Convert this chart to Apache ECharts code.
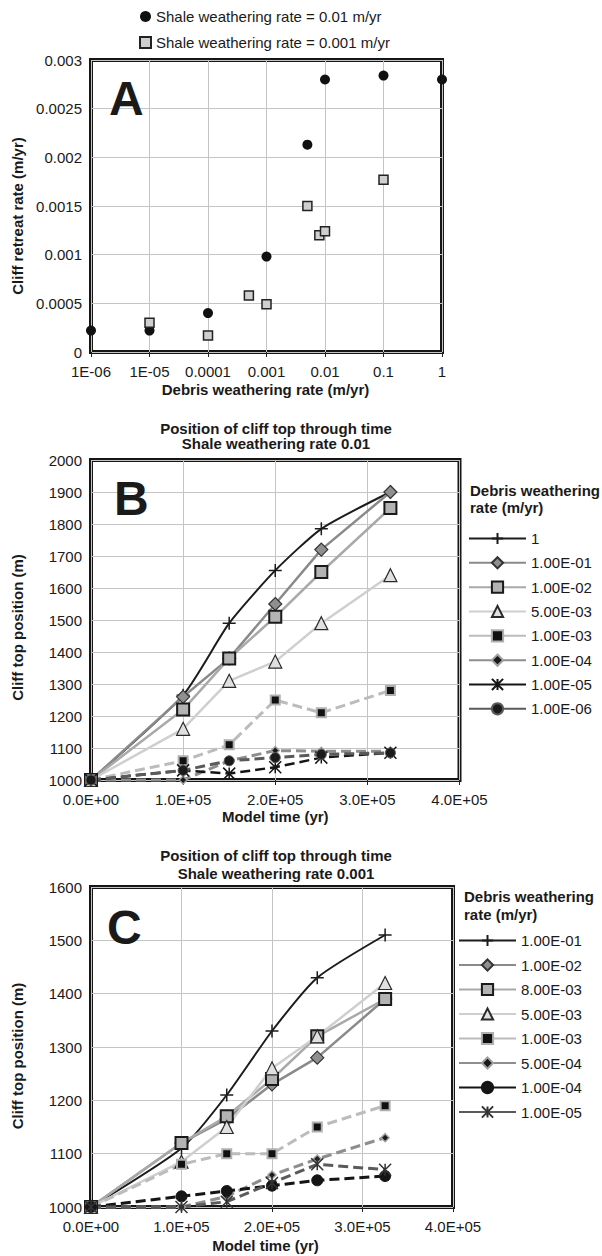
<!DOCTYPE html>
<html><head><meta charset="utf-8">
<script src="https://cdn.jsdelivr.net/npm/echarts@6/dist/echarts.min.js"></script>
<style>html,body{margin:0;padding:0;background:#fff}#c{width:602px;height:1256px}</style>
</head><body><div id="c"></div>
<script>
// ---------- Panel A data ----------
const debrisRatesHigh = [1e-6, 1e-5, 1e-4, 1e-3, 5e-3, 1e-2, 1e-1, 1];
const retreatHigh     = [0.00022, 0.00022, 0.0004, 0.00098, 0.00213, 0.0028, 0.00284, 0.0028];
const debrisRatesLow  = [1e-5, 1e-4, 5e-4, 1e-3, 5e-3, 8e-3, 1e-2, 1e-1];
const retreatLow      = [0.0003, 0.00017, 0.00058, 0.00049, 0.0015, 0.0012, 0.00124, 0.00177];
const seriesNamesA = ['Shale weathering rate = 0.01 m/yr', 'Shale weathering rate = 0.001 m/yr'];
const xTickLabelsA = ['1E-06', '1E-05', '0.0001', '0.001', '0.01', '0.1', '1'];
const yTickLabelsA = ['0', '0.0005', '0.001', '0.0015', '0.002', '0.0025', '0.003'];

// ---------- Panels B & C shared ----------
const modelTimes = [0, 100000, 150000, 200000, 250000, 325000];
const timeTickLabels = ['0.0E+00', '1.0E+05', '2.0E+05', '3.0E+05', '4.0E+05'];

// ---------- Panel B data (shale 0.01) ----------
const namesB = ['1', '1.00E-01', '1.00E-02', '5.00E-03', '1.00E-03', '1.00E-04', '1.00E-05', '1.00E-06'];
const posB_1    = [1000, 1265, 1490, 1655, 1785, 1900];
const posB_1e1  = [1000, 1260, 1380, 1550, 1720, 1900];
const posB_1e2  = [1000, 1220, 1380, 1510, 1650, 1850];
const posB_5e3  = [1000, 1160, 1310, 1370, 1490, 1640];
const posB_1e3  = [1000, 1060, 1110, 1250, 1210, 1280];
const posB_1e4  = [1000, 1000, 1060, 1092, 1090, 1090];
const posB_1e5  = [1000, 1030, 1020, 1040, 1070, 1085];
const posB_1e6  = [1000, 1030, 1060, 1070, 1080, 1085];
const valuesB = [posB_1, posB_1e1, posB_1e2, posB_5e3, posB_1e3, posB_1e4, posB_1e5, posB_1e6];

// ---------- Panel C data (shale 0.001) ----------
const namesC = ['1.00E-01', '1.00E-02', '8.00E-03', '5.00E-03', '1.00E-03', '5.00E-04', '1.00E-04', '1.00E-05'];
const posC_1e1 = [1000, 1110, 1210, 1330, 1430, 1510];
const posC_1e2 = [1000, 1120, 1165, 1230, 1280, 1390];
const posC_8e3 = [1000, 1120, 1170, 1240, 1320, 1390];
const posC_5e3 = [1000, 1085, 1150, 1260, 1320, 1420];
const posC_1e3 = [1000, 1080, 1100, 1100, 1150, 1190];
const posC_5e4 = [1000, 1000, 1020, 1060, 1090, 1130];
const posC_1e4 = [1000, 1020, 1030, 1040, 1050, 1058];
const posC_1e5 = [1000, 1000, 1010, 1045, 1080, 1070];
const valuesC = [posC_1e1, posC_1e2, posC_8e3, posC_5e3, posC_1e3, posC_5e4, posC_1e4, posC_1e5];

// ---------- styles ----------
const FONT = "'Liberation Sans', Arial, Helvetica, sans-serif";
const symPlus = 'path://M5,0L5,10M0,5L10,5';
const symAster = 'path://M0,0L10,10M10,0L0,10M5,0L5,10';
const DASH = [10, 5];
const stBlackPlus = {line:'#1c1c1c', width:2, symbol:symPlus, size:13, fill:'rgba(0,0,0,0)', border:'#1c1c1c', bw:1.5, smooth:0.2};
const stDiamond   = {line:'#8a8a8a', width:2.5, symbol:'diamond', size:13, fill:'#8f8f8f', border:'#333', bw:1.2};
const stSquare    = {line:'#a9a9a9', width:2.5, symbol:'rect', size:12, fill:'#b3b3b3', border:'#1a1a1a', bw:2};
const stTriangle  = {line:'#cfcfcf', width:2.5, symbol:'triangle', size:13, fill:'#e0e0e0', border:'#2a2a2a', bw:1.2};
const stSmallSq   = {line:'#bcbcbc', width:3, dash:true, symbol:'rect', size:9, fill:'#111', border:'#b0b0b0', bw:2};
const stSmallDia  = {line:'#8e8e8e', width:3, dash:true, symbol:'diamond', size:8, fill:'#1a1a1a', border:'#a0a0a0', bw:1.5};
const stAsterBlk  = {line:'#151515', width:2.5, dash:true, symbol:symAster, size:12, fill:'rgba(0,0,0,0)', border:'#151515', bw:1.5};
const stCircleGr  = {line:'#5a5a5a', width:3, dash:true, symbol:'circle', size:10, fill:'#1a1a1a', border:'#5a5a5a', bw:1};
const stCircleBlk = {line:'#151515', width:3, dash:true, symbol:'circle', size:11, fill:'#151515', border:'#151515', bw:1};
const stAsterGr   = {line:'#5a5a5a', width:3, dash:true, symbol:symAster, size:12, fill:'rgba(0,0,0,0)', border:'#333', bw:1.5};
const stylesB = [stBlackPlus, stDiamond, stSquare, stTriangle, stSmallSq, stSmallDia, stAsterBlk, stCircleGr];
const stylesC = [stBlackPlus, stDiamond, stSquare, stTriangle, stSmallSq, stSmallDia, stCircleBlk, stAsterGr];

function lineSeries(prefix, name, values, st, idx) {
  return {
    type: 'line', name: prefix + '|' + name, xAxisIndex: idx, yAxisIndex: idx,
    data: modelTimes.map((t, i) => [t, values[i]]),
    smooth: st.smooth || false, symbol: st.symbol, symbolSize: st.size, symbolKeepAspect: true,
    showAllSymbol: true, clip: false,
    lineStyle: {color: st.line, width: st.width, type: st.dash ? DASH : 'solid', opacity: 1},
    itemStyle: {color: st.fill, borderColor: st.border, borderWidth: st.bw, opacity: 1},
    emphasis: {disabled: true}
  };
}

const axisText = {color: '#1a1a1a', fontSize: 15, fontFamily: FONT};
const nameText = {color: '#1a1a1a', fontSize: 15, fontWeight: 'bold', fontFamily: FONT};
const split = {show: true, lineStyle: {color: '#c4c4c4', width: 1}};
const tick = {show: true, inside: false, length: 5, lineStyle: {color: '#222', width: 1}};
const plainNum = v => String(v);

const grids = [
  {left: 91, top: 60, width: 351, height: 292},
  {left: 91, top: 460, width: 368.5, height: 320},
  {left: 91, top: 887, width: 362, height: 320}
].map(g => Object.assign(g, {show: true, borderColor: '#161616', borderWidth: 4, backgroundColor: '#fff', containLabel: false}));

const xAxes = [
  {gridIndex: 0, type: 'log', logBase: 10, min: 1e-6, max: 1, splitNumber: 6,
   axisLine: {show: false}, axisTick: tick, splitLine: split,
   axisLabel: Object.assign({margin: 12, formatter: v => xTickLabelsA[Math.round(Math.log10(v)) + 6]}, axisText),
   name: 'Debris weathering rate (m/yr)', nameLocation: 'middle', nameGap: 30,
   nameTextStyle: Object.assign({padding: [0, 2, 0, 0]}, nameText)},
  {gridIndex: 1, type: 'value', min: 0, max: 400000, interval: 100000,
   axisLine: {show: false}, axisTick: tick, splitLine: split,
   axisLabel: Object.assign({margin: 12, formatter: v => timeTickLabels[Math.round(v / 100000)]}, axisText),
   name: 'Model time (yr)', nameLocation: 'middle', nameGap: 29, nameTextStyle: nameText},
  {gridIndex: 2, type: 'value', min: 0, max: 400000, interval: 100000,
   axisLine: {show: false}, axisTick: tick, splitLine: split,
   axisLabel: Object.assign({margin: 12, formatter: v => timeTickLabels[Math.round(v / 100000)]}, axisText),
   name: 'Model time (yr)', nameLocation: 'middle', nameGap: 31,
   nameTextStyle: Object.assign({padding: [0, 13, 0, 0]}, nameText)}
];
const yAxes = [
  {gridIndex: 0, type: 'value', min: 0, max: 0.003, interval: 0.0005,
   axisLine: {show: false}, axisTick: {show: false}, splitLine: split,
   axisLabel: Object.assign({margin: 9, formatter: v => yTickLabelsA[Math.round(v / 0.0005)]}, axisText),
   name: 'Cliff retreat rate (m/yr)', nameLocation: 'middle', nameGap: 66, nameRotate: 90,
   nameTextStyle: Object.assign({padding: [0, 20, 0, 0]}, nameText)},
  {gridIndex: 1, type: 'value', min: 1000, max: 2000, interval: 100,
   axisLine: {show: false}, axisTick: {show: false}, splitLine: split,
   axisLabel: Object.assign({margin: 9, formatter: plainNum}, axisText),
   name: 'Cliff top position (m)', nameLocation: 'middle', nameGap: 66, nameRotate: 90,
   nameTextStyle: Object.assign({padding: [0, 15, 0, 0]}, nameText)},
  {gridIndex: 2, type: 'value', min: 1000, max: 1600, interval: 100,
   axisLine: {show: false}, axisTick: {show: false}, splitLine: split,
   axisLabel: Object.assign({margin: 9, formatter: plainNum}, axisText),
   name: 'Cliff top position (m)', nameLocation: 'middle', nameGap: 66, nameRotate: 90,
   nameTextStyle: Object.assign({padding: [0, 18, 0, 0]}, nameText)}
];

const series = [
  {type: 'scatter', name: seriesNamesA[0], xAxisIndex: 0, yAxisIndex: 0, clip: false,
   data: debrisRatesHigh.map((r, i) => [r, retreatHigh[i]]),
   symbol: 'circle', symbolSize: 10, itemStyle: {color: '#111', opacity: 1}, emphasis: {disabled: true}},
  {type: 'scatter', name: seriesNamesA[1], xAxisIndex: 0, yAxisIndex: 0, clip: false,
   data: debrisRatesLow.map((r, i) => [r, retreatLow[i]]),
   symbol: 'rect', symbolSize: 9, itemStyle: {color: '#cfcfcf', borderColor: '#222', borderWidth: 1.5, opacity: 1}, emphasis: {disabled: true}}
];
namesB.forEach((n, i) => series.push(lineSeries('B', n, valuesB[i], stylesB[i], 1)));
namesC.forEach((n, i) => series.push(lineSeries('C', n, valuesC[i], stylesC[i], 2)));

const legendFmt = n => n.split('|').pop();
const legendText = {color: '#1a1a1a', fontSize: 15, fontFamily: FONT};
const legends = [
  {data: seriesNamesA, orient: 'vertical', left: 139, top: 9, padding: 0, itemWidth: 11, itemHeight: 11, itemGap: 11,
   textStyle: legendText, selectedMode: false, itemStyle: {opacity: 1}},
  {data: namesB.map(n => 'B|' + n), orient: 'vertical', left: 468, top: 531, padding: 0, itemWidth: 57, itemHeight: 14, itemGap: 9.33,
   formatter: legendFmt, textStyle: legendText, selectedMode: false, lineStyle: {type: 'solid'}},
  {data: namesC.map(n => 'C|' + n), orient: 'vertical', left: 458, top: 933, padding: 0, itemWidth: 57, itemHeight: 14, itemGap: 9.5,
   formatter: legendFmt, textStyle: legendText, selectedMode: false, lineStyle: {type: 'solid'}}
];

function txt(text, x, y, font, align, lh) {
  return {type: 'text', x: x, y: y, silent: true, z: 100,
    style: {text: text, font: font, fill: '#1a1a1a', textAlign: align || 'left', textVerticalAlign: 'top', lineHeight: lh}};
}
const BIG = "bold 48px " + FONT;
const B15 = "bold 15px " + FONT;
const graphic = [
  txt('A', 109, 74, BIG, 'left', 48),
  txt('B', 114, 474, BIG, 'left', 48),
  txt('C', 107, 903, BIG, 'left', 48),
  txt('Position of cliff top through time\nShale weathering rate 0.01', 276, 421, B15, 'center', 15),
  txt('Position of cliff top through time\nShale weathering rate 0.001', 276, 847, B15, 'center', 17.5),
  txt('Debris weathering\nrate (m/yr)', 470, 482, B15, 'left', 17.3),
  txt('Debris weathering\nrate (m/yr)', 464, 887, B15, 'left', 18.3)
];

const chart = echarts.init(document.getElementById('c'), null, {renderer: 'svg'});
chart.setOption({
  animation: false, backgroundColor: '#fff',
  textStyle: {fontFamily: FONT},
  grid: grids, xAxis: xAxes, yAxis: yAxes, series: series, legend: legends, graphic: graphic
});
</script></body></html>
